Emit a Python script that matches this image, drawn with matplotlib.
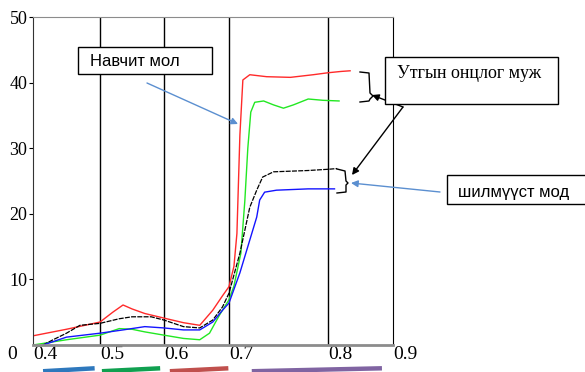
import numpy as np
import matplotlib
matplotlib.use("Agg")
import matplotlib.pyplot as plt
import matplotlib.transforms as mtransforms
from matplotlib.patches import Rectangle
from matplotlib.lines import Line2D

# ---- data (wavelength in um, reflectance in %) ------------------------------
red_x = [0.40, 0.45, 0.50, 0.52, 0.536, 0.55, 0.57, 0.60, 0.63, 0.655, 0.675,
         0.69, 0.70, 0.705, 0.708, 0.711, 0.714, 0.721, 0.738, 0.762, 0.785,
         0.80, 0.82, 0.834]
red_y = [1.4, 2.4, 3.5, 5.0, 6.1, 5.5, 4.8, 4.1, 3.4, 3.0, 5.3,
         7.5, 8.9, 12.0, 17.0, 32.0, 40.4, 41.2, 40.9, 40.8, 41.2,
         41.5, 41.7, 41.8]

green_x = [0.40, 0.45, 0.50, 0.53, 0.55, 0.57, 0.60, 0.63, 0.655, 0.67, 0.685,
           0.70, 0.705, 0.712, 0.716, 0.719, 0.722, 0.726, 0.735, 0.745, 0.755,
           0.765, 0.78, 0.795, 0.817]
green_y = [0.0, 0.8, 1.5, 2.5, 2.4, 2.0, 1.5, 1.0, 0.8, 1.8, 4.5,
           6.9, 9.0, 14.0, 22.0, 30.0, 35.5, 37.0, 37.2, 36.6, 36.1,
           36.6, 37.5, 37.3, 37.2]

black_x = [0.415, 0.43, 0.45, 0.47, 0.50, 0.53, 0.55, 0.58, 0.60, 0.63, 0.655,
           0.675, 0.69, 0.70, 0.711, 0.721, 0.728, 0.734, 0.745, 0.78, 0.802,
           0.814]
black_y = [0.0, 0.8, 1.8, 3.0, 3.3, 4.0, 4.3, 4.3, 3.8, 2.8, 2.6,
           3.8, 5.8, 7.9, 14.0, 21.0, 23.6, 25.6, 26.4, 26.6, 26.8,
           26.9]

blue_x = [0.415, 0.45, 0.50, 0.536, 0.57, 0.60, 0.63, 0.655, 0.675, 0.69, 0.70,
          0.711, 0.721, 0.728, 0.731, 0.736, 0.748, 0.78, 0.81]
blue_y = [0.0, 1.2, 1.8, 2.3, 2.8, 2.6, 2.3, 2.3, 3.5, 5.3, 6.4,
          11.0, 16.0, 19.5, 22.1, 23.3, 23.6, 23.8, 23.8]

# spectral bands drawn under the axis
band_ranges = [(0.415, 0.492), (0.503, 0.594), (0.609, 0.699), (0.723, 0.883)]
band_colors = ["#2e78bd", "#10a050", "#c0504d", "#8064a2"]

x_ticks = [0.4, 0.5, 0.6, 0.7, 0.8, 0.9]
y_ticks = [10, 20, 30, 40, 50]

# the original axis is not linear: spacing in pixels between the ticks
TICK_PX = [0, 67, 131, 196, 295, 360]

W, H = 585, 372
SERIF = ["Liberation Serif", "DejaVu Serif"]
SANS = ["Liberation Sans", "DejaVu Sans"]


def fpx(x, y):
    """pixel (from top-left) -> figure fraction"""
    return (x / W, 1 - y / H)


fig = plt.figure(figsize=(W / 100, H / 100), dpi=100)
ax = fig.add_axes([33 / W, 1 - 345 / H, 360 / W, 328 / H])

ax.set_xscale("function", functions=(lambda v: np.interp(v, x_ticks, TICK_PX),
                                     lambda p: np.interp(p, TICK_PX, x_ticks)))

ax.plot(red_x, red_y, color="#ff2a2a", lw=1.0)
ax.plot(green_x, green_y, color="#22e822", lw=1.0)
ax.plot(black_x, black_y, color="black", lw=0.9, ls=(0, (4, 1)))
ax.plot(blue_x, blue_y, color="#1414ff", lw=1.0)

ax.set_xlim(0.4, 0.9)
ax.set_ylim(0, 50)
for v in x_ticks[1:-1]:
    ax.axvline(v, color="black", lw=1.0, zorder=0)

ax.set_xticks(x_ticks)
ax.set_xticklabels([f"{v:g}" for v in x_ticks], fontfamily=SERIF, fontsize=14,
                   ha="left")
ax.tick_params(axis="x", length=0, pad=1)
ax.set_yticks(y_ticks)
ax.set_yticklabels([str(v) for v in y_ticks], fontfamily=SERIF, fontsize=13)
ax.tick_params(axis="y", length=3, pad=1)
ax.text(-0.045, -0.028, "0", transform=ax.transAxes, fontfamily=SERIF,
        fontsize=14, ha="right", va="center")

ax.spines["left"].set_color("#333333")
ax.spines["top"].set_color("#8c8c8c")
ax.spines["bottom"].set_color("#8c8c8c")
ax.spines["bottom"].set_linewidth(2.0)
ax.spines["right"].set_color("black")

# colored wavelength bands below the axis
btr = mtransforms.blended_transform_factory(ax.transData, ax.transAxes)
for (lo, hi), c in zip(band_ranges, band_colors):
    ax.plot([lo, hi], [-0.080, -0.071], color=c, lw=3.2, transform=btr,
            clip_on=False, solid_capstyle="butt")

# ---- annotations ------------------------------------------------------------
def box(x0, y0, x1, y1):
    fig.add_artist(Rectangle(fpx(x0, y1), (x1 - x0) / W, (y1 - y0) / H,
                             transform=fig.transFigure, facecolor="white",
                             edgecolor="black", lw=1.0, zorder=5))


def arrow(x0, y0, x1, y1, color):
    ax.annotate("", xy=fpx(x1, y1), xytext=fpx(x0, y0),
                xycoords="figure fraction", textcoords="figure fraction",
                annotation_clip=False,
                arrowprops=dict(arrowstyle="-|>", color=color, lw=1.0,
                                mutation_scale=10, shrinkA=0, shrinkB=0))


def bracket(pts):
    xs, ys = zip(*[fpx(x, y) for x, y in pts])
    fig.add_artist(Line2D(xs, ys, transform=fig.transFigure, color="black",
                          lw=1.0))


box(78, 47, 212, 74)
fig.text(*fpx(90, 62), "Навчит мол", fontfamily=SANS, fontsize=12,
         ha="left", va="center", zorder=6)
arrow(147, 83, 238, 124, "#5b8fd0")

box(385, 57, 558, 104)
fig.text(*fpx(397, 73), "Утгын онцлог муж", fontfamily=SERIF, fontsize=13,
         ha="left", va="center", zorder=6)

box(447, 175, 592, 204)
fig.text(*fpx(458, 192), "шилмүүст мод", fontfamily=SANS, fontsize=12,
         ha="left", va="center", zorder=6)

bracket([(360, 72), (369, 73), (370, 93), (373, 96), (370, 99), (369, 101),
         (360, 102)])
bracket([(337, 169), (345, 171), (346, 181), (348, 183), (346, 185),
         (346, 192), (337, 193)])

arrow(403, 107, 372, 95, "black")
arrow(403, 107, 352, 175, "black")
arrow(440, 192, 351, 183, "#5b8fd0")

fig.savefig("out.png", dpi=100)
